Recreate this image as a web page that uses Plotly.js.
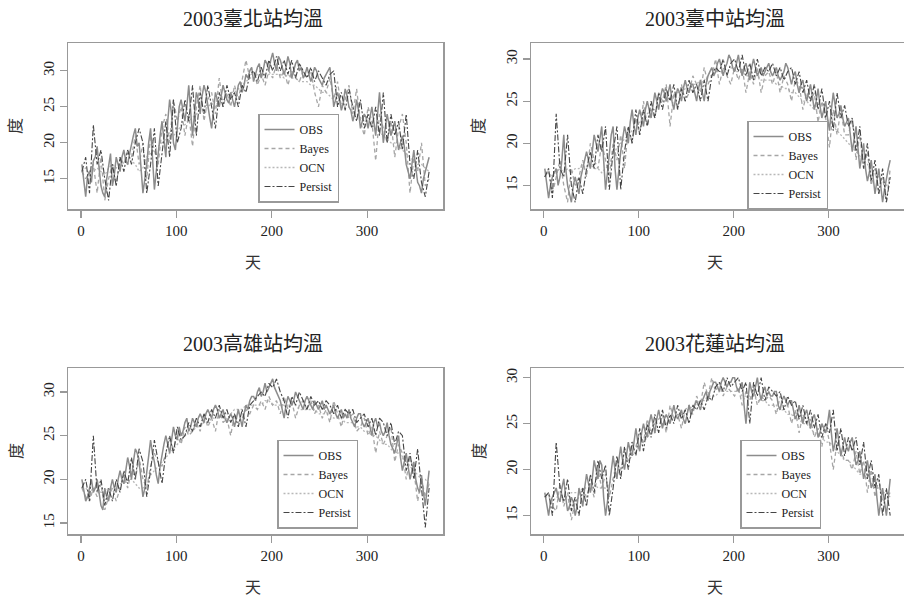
<!DOCTYPE html>
<html>
<head>
<meta charset="utf-8">
<script src="https://cdn.plot.ly/plotly-3.0.1.min.js"></script>
<style>html,body{margin:0;padding:0;background:#fff;}#chart{width:904px;height:596px;}</style>
</head>
<body>
<div id="chart"></div>
<script>
// Day positions: forecasts read every 4th day, observations every 2nd day
const DAYS = Array.from({length: 92}, (_, k) => 1 + 4 * k);
const DAYS_OBS = Array.from({length: 183}, (_, k) => 1 + 2 * k);

const SERIES_NAMES = ["OBS", "Bayes", "OCN", "Persist"];
const STATIONS = ["2003臺北站均溫", "2003臺中站均溫", "2003高雄站均溫", "2003花蓮站均溫"];
const X_TICKS = [0, 100, 200, 300];
const Y_TICKS = [15, 20, 25, 30];
const X_TITLE = "天";
const Y_TITLE = "度";

// ---- Taipei ----
const taipei_OBS = [17,15,12.5,15.5,16,14.5,17.5,18,19.5,16.5,14,13,12.5,15,17,18.5,14,15.5,18,17,
  16,18,19,17.5,17,18.5,20,21,22,19.5,20,17,13,15,17,20,22,18,13.5,16,
  19,21,23,20.5,18,23,26,24,20,19,22,25,26,24.5,23,25,28,24.5,21,24,
  27,26,24,26.5,28,27,25,23.5,22,25,27,26,25,26.5,28,27,26,25.5,27,26,
  25,26.5,28,28.5,27,28,29.5,29,30,30.5,28.5,29.5,30.5,31,29,30,31.5,31,30,31.5,
  32.5,31,30,32,31.5,30.5,29.5,30.5,32,31,29,30,31,31.5,30,30.5,29,29.5,30.5,29.5,
  28.5,29.5,30.5,30,29,28.5,28,29,29.5,30,30.5,28,25,26,27,26,24.5,25.5,27.5,26.5,
  25,24.5,23,24,26,24.5,22,23,24,23.5,22,23.5,25,23,21,24,27,23.5,20,22,
  24,22.5,21,22,23,21,19,20,21,19.5,17,16,15,17,19,16.5,14.5,14,13,15,
  16,17,18];
const taipei_Bayes = [16,15,16,17,13,18,12,15,17,14, 18,17,19,18,21,17,20,15,21,19, 17,22,24,20,26,23,25,21,24,19.5,
  25,28,23,26,27,24,29,25,27,25, 28,26,29,31.5,29,30,28,29.5,28,30, 29,31,29,30,28,30,29,28.5,30,29,
  30,27,25,28,27,29,26,28.5,25,26, 28,24,27.5,23,21,25,23,17.5,24,22, 20,23,18,22,24,20,13,18,16,20, 14,15];
const taipei_OCN = [16,16.5,15.5,16,16.5,16,15.5,16.5,17,16.5, 17,17.5,17,17.5,17,16,16.5,18,18.5,19, 19.5,20,20.5,21.5,21,21.5,22.5,22.5,23,23.5,
  24,24.5,24.5,25,25.5,25,26,26,26.5,27, 27,27.5,28,28.5,29,29,29.5,29.5,29.5,29.5, 29.5,29.5,29.5,29,29.5,29,29,28.5,28.5,28.5,
  28,28,27.5,27,27,26.5,26,26,25.5,25, 25,24.5,24,23.5,23,23,22.5,22,21.5,21, 20.5,20,20,19.5,19,18.5,18,17.5,17,17, 16.5,16];
const taipei_Persist = [16,18,13,22.5,17,19,15,12,17,14, 18,16,19,17,20,22,20,13,17,22, 14,19,23,18,26,20,22,26,23,28,
  21,27,24,28,25,22,27,25,28,26, 27,25,28,27,29.5,30,28.5,30.5,29,31.5, 30,32,30,31.5,29.5,31.5,29,31,30,29,
  30.5,28.5,30,29,28,29.5,30,25,27,24.5, 27.5,25,23,26,22,24,22,25,21,27, 20,24,21,23,19,24,17,15,19,14.5, 12.5,16];

// ---- Taichung ----
const taichung_OBS = [17,15.5,13.5,15,16,16.5,17,15,16,18,21,17,15,14,13,15,16,15,14,16,
  17,18,19,18,17,19,21,20,19,20.5,22,18,14.5,16.5,19,21,22,17,14.5,17,
  19,20.5,22,21,20,22.5,24,22,21,23,24,23,22,24,25,24,23,24.5,26,25,
  24,25.5,26.5,26,25,26,27,25,24,25.5,26.5,26,25,26.5,27.5,26.5,26,27,27,26,
  25,26.5,27.5,26,25,27,28,28.5,29,28,28.5,29.5,30,29,28,29,29.5,30.5,30,29,
  28.5,29.5,30.5,29,28,29,29.5,28.5,27.5,29,30,29,28,28.5,29,28,28.5,29,29.5,28.5,
  28,28.5,29,28,27.5,28,28.5,29.5,29,28,27,28,28.5,27,26,27,27.5,26,25,26,
  27,25.5,24,25,26.5,24.5,23,24,25,23,21.5,24,26,24.5,23,23.5,24.5,23,22,22.5,
  23,21,19,20.5,22,19.5,17,18.5,20,17,15.5,16.5,18,16,14,15.5,17,15,13,14.5,
  16,17,18];
const taichung_Bayes = [16,17,14,16,18,15,13,17,15,16, 18,16,20,18,17,20,18,16,20,18, 21,17,22,20,23,21,25,22,24,23,
  26,25,27,22,26,24,27,25,26,28, 27,26,29,27,28,30,27,29,28,27, 29,27.5,29,26,28.5,27,29,26,28,28.5,
  27,28.5,26,28,27,25,27.5,27,24,26, 25,26,22.5,25,23,19.5,24,21,24,21, 21,23,18,21,17,19,15,17,14,16, 13,17];
const taichung_OCN = [16,16.5,16,16.5,17,16.5,17,16.5,17,17, 17.5,17,17.5,17,17,16.5,17,17.5,18.5,19.5, 20,20.5,21,21.5,22,22.5,23,23.5,24,24,
  24.5,25,25,25.5,25.5,26,26,26.5,26.5,27, 27,27.5,27.5,28,28,28.5,28.5,28.5,28.5,29, 28.5,28.5,28.5,28,28,28,28,27.5,27.5,27.5,
  27.5,27,27,26.5,26.5,26,26,25.5,25,25, 24.5,24,24,23.5,23,22.5,22,21.5,21,20.5, 20,19.5,19,18.5,18,17.5,17,16.5,16,15.5, 15,15.5];
const taichung_Persist = [16,17,13.5,23.5,17,16,21,15,13,16, 14,17,19,17,21,19,22,14.5,19,22, 14.5,19,22,20,24,21,24,22,25,23,
  26,24,26.5,25,27,24,26.5,25,27.5,26, 27,25,27.5,25,28,29,28.5,30,28,29.5, 30,28.5,30.5,28,29.5,27.5,30,28,29,28.5,
  29.5,28,29,27.5,28.5,29,27,28.5,26,27.5, 25,27,24,26.5,23,25,21.5,26,23,24.5, 22,23,19,22,17,20,15.5,18,14,17, 13,16];

// ---- Kaohsiung ----
const kaohsiung_OBS = [20,18.5,17.5,18,19,20,18.5,19,20,18.5,17,16.5,19,18,17.5,19,20,19,18.5,20,
  21,20,19.5,21,22.5,21.5,20,22,23.5,23,22,20,18,19,21,22.5,24.5,23,22,20.5,
  19.5,21.5,23,24,25,24,23,24.5,26,25,24.5,26,25,25.5,26.5,27,25.5,26,27,26.5,
  26,27,27.5,27,26.5,27.5,28,27.5,27,28,28.5,28,27,27.5,28,27,26.5,27,27.5,27,
  26,27,28,27,26,27.5,28.5,28,29,29.5,29.5,29,30,30.5,29.5,30,31,30,30.5,31,
  31.5,30.5,30,29.5,29,28,27,28.5,29.5,29,28.5,29,30,29.5,29,28.5,28,29,29.5,29,
  28.5,28,29,28.5,28,28.5,29,28,28.5,28,27.5,28,28.5,27.5,27,27.5,28,27,27.5,27,
  28,27,26.5,26,27,27.5,27.5,26.5,26,26.5,27,26,25,26.5,27,26,26.5,25.5,25,25.5,
  26.5,25,24,23.5,23,24,25,22.5,21,22,23,21.5,20,21,22,20,19,18.5,20.5,18.5,
  17,19,21];
const kaohsiung_Bayes = [19,18,17.5,19,18,19.5,16.5,18,19,17.5, 19,20.5,19,21,20,22.5,20,19,21.5,23, 22,21.5,23,24.5,23.5,25,24,26,25,25.5,
  26.5,25.5,27.5,26,27,25.5,28,26.5,27,25, 27.5,26.5,27,28,27.5,28.5,28,29,28,29.5, 28.5,29,27.5,29.5,28,29,27,28.5,29,28,
  29,27.5,28.5,27,28,26.5,29,27.5,26,28, 27,27.5,25.5,26,27,25,26,23,25.5,24, 25,26,22,24,23,20,22.5,21,17.5,20, 18,19.5];
const kaohsiung_OCN = [19,19,18.5,19,19,18.5,18.5,19,19,19, 19.5,19.5,20,20,19.5,19,19,19.5,20.5,21, 21.5,22,22.5,23,23.5,24,24.5,25,25.5,25.5,
  26,26,26.5,26.5,27,27,27,27.5,27.5,27.5, 28,28,28,28.5,28.5,28.5,28.5,28.5,29,29, 28.5,28.5,28.5,28.5,28.5,28.5,28.5,28,28,28,
  28,28,27.5,27.5,27.5,27.5,27,27,27,26.5, 26.5,26.5,26,26,25.5,25.5,25,25,24.5,24, 24,23.5,23,23,22.5,22,21.5,21,20.5,20, 20,19.5];
const kaohsiung_Persist = [19,20,17.5,25,18.5,20,17,19,17.5,20, 18.5,21,19.5,22.5,20,23.5,22,18,21,24.5, 22,19.5,23,25,23,26,24.5,25,26.5,25.5,
  27,26,27.5,26.5,28,27,28.5,27,28,26.5, 27.5,26,28,26,28.5,29,29.5,30,29.5,31, 30.5,31.5,30,29,27,29.5,28.5,30,29,28,
  29.5,28.5,29,28,29,28.5,27.5,28.5,27,28, 27.5,28,26.5,27,27.5,26,27,25,27,26.5, 25,26.5,24,25.5,25,21,23,20,23.5,19, 14.5,19];

// ---- Hualien ----
const hualien_OBS = [17.5,16,15,16.5,17,17.5,18,17,16.5,18,19,17,15.5,16,17,16.5,15,16,18,17,
  16,18,19.5,18.5,17.5,19,21,20,19,21,20.5,17,15,16.5,18,20,21.5,20,19,21,
  22.5,21,20,21.5,23,22,21.5,23,24.5,23,22,24,25,24,23.5,25,26,25,24,25.5,
  26.5,25.5,24.5,25.5,26,25.5,25,26,27,26,25.5,26,26.5,25.5,25,26,27,26,26.5,27,
  27.5,27,26.5,27.5,28,28.5,27.5,28.5,29,29.5,29.5,29,28.5,29.5,30,29.5,29,29.5,29.5,30,
  30,29,28.5,29,29.5,27,25,27.5,29.5,28.5,28,29,30,28.5,27.5,28.5,29,28,28.5,28,
  28,28.5,28.5,27,26.5,27.5,28,27.5,27,27.5,27.5,26.5,25.5,26,27,26,25,26,26.5,25.5,
  24.5,25.5,26,25,23.5,24,25,24.5,24,25,26.5,24,22,23,24.5,23,21.5,22.5,23.5,22.5,
  22,23,23.5,22,20.5,21,22,20.5,19,20,21,19.5,18,18.5,19.5,17,15,16.5,18,16.5,
  15,17,19];
const hualien_Bayes = [17,17.5,16,15.5,18.5,16,17.5,14.5,16.5,17, 18,17,18.5,17,20,18,19.5,17,19,21, 20,22,21,23,22.5,24,23,25.5,24,25,
  25.5,26,24,27,25.5,26,24.5,26.5,27,26, 28,27,29.5,28,30,28.5,29.5,28,29,28.5, 28,29,27,28.5,27.5,29,27,28,27.5,28,
  27.5,26,28,26.5,27,25,26.5,24,26,25, 25.5,23.5,24.5,22.5,25,23,20,23,22,21, 21,20,22,19.5,21,17.5,20,17,19,16.5, 17,17.5];
const hualien_OCN = [17,17,16.5,17,17,17,17,17.5,17.5,17.5, 18,18,18,18.5,18,18,18,18.5,19,19.5, 20,20.5,21,21.5,22,22.5,23,23.5,24,24,
  24.5,25,25,25.5,25.5,26,26,26.5,26.5,27, 27,27.5,27.5,28,28,28,28.5,28.5,28.5,28.5, 28.5,28.5,28,28,28,28,27.5,27.5,27.5,27,
  27,27,26.5,26.5,26,26,25.5,25.5,25,25, 24.5,24,24,23.5,23,23,22.5,22,21.5,21, 21,20.5,20,19.5,19.5,19,18.5,18,18,17.5, 17.5,17];
const hualien_Persist = [17,17.5,15,23,18,16.5,19,15.5,17,15, 18,16,19.5,17.5,21,19,20.5,15,18,21.5, 19,22.5,20,23,21.5,24.5,22,25,23.5,26,
  24,26.5,24.5,26,25,27,25.5,26.5,25,27, 26.5,27.5,26.5,28,27.5,29,29.5,28.5,30,29, 29.5,30,28.5,29.5,25,29.5,28,30,27.5,29,
  28.5,28,28.5,26.5,28,27,27.5,25.5,27,25, 26.5,24.5,26,23.5,25,24,26.5,22,24.5,21.5, 23.5,22,23.5,20.5,23,19,21,18,19.5,15, 18,15];

const PANELS = [
  {title: STATIONS[0], data: {OBS: taipei_OBS, Bayes: taipei_Bayes, OCN: taipei_OCN, Persist: taipei_Persist}},
  {title: STATIONS[1], data: {OBS: taichung_OBS, Bayes: taichung_Bayes, OCN: taichung_OCN, Persist: taichung_Persist}},
  {title: STATIONS[2], data: {OBS: kaohsiung_OBS, Bayes: kaohsiung_Bayes, OCN: kaohsiung_OCN, Persist: kaohsiung_Persist}},
  {title: STATIONS[3], data: {OBS: hualien_OBS, Bayes: hualien_Bayes, OCN: hualien_OCN, Persist: hualien_Persist}}
];

// ---- styling / layout (pixels in a 904x596 page) ----
const W = 904, H = 596;
const SERIF = "Liberation Serif, Times New Roman, Noto Sans CJK TC, serif";
const STYLE = {
  OBS:     {color: "#8c8c8c", width: 1.5, dash: "solid", rank: 1},
  Bayes:   {color: "#a6a6a6", width: 1.3, dash: "4px,3px", rank: 2},
  OCN:     {color: "#b8b8b8", width: 1.3, dash: "2px,2px", rank: 3},
  Persist: {color: "#454545", width: 1.1, dash: "6px,2px,2px,2px", rank: 4}
};
const DRAW_ORDER = ["OCN", "Bayes", "OBS", "Persist"];
const BOX = [
  {x0: 68, x1: 443, y0: 43, y1: 209, yr: [10.8, 33.87], leg: [258, 158]},
  {x0: 531, x1: 904, y0: 43, y1: 209, yr: [12.2, 31.9], leg: [747, 165]},
  {x0: 68, x1: 443, y0: 368, y1: 534, yr: [13.74, 32.75], leg: [277, 484]},
  {x0: 531, x1: 904, y0: 368, y1: 534, yr: [13.0, 31.05], leg: [740, 484]}
];

const traces = [];
const layout = {
  width: W, height: H,
  margin: {l: 0, r: 0, t: 0, b: 0},
  paper_bgcolor: "#fff", plot_bgcolor: "#fff",
  font: {family: SERIF, color: "#222", size: 15},
  annotations: [],
  showlegend: true
};

PANELS.forEach((p, i) => {
  const n = i + 1;
  const xa = "x" + (n === 1 ? "" : n), ya = "y" + (n === 1 ? "" : n);
  const legName = n === 1 ? "legend" : "legend" + n;
  const b = BOX[i];
  DRAW_ORDER.forEach(s => {
    const st = STYLE[s];
    traces.push({
      type: "scatter", mode: "lines", name: s,
      x: s === "OBS" ? DAYS_OBS : DAYS, y: p.data[s], xaxis: xa, yaxis: ya,
      legend: legName, legendrank: st.rank,
      line: {color: st.color, width: st.width, dash: st.dash},
      hoverinfo: "skip"
    });
  });
  const axCommon = {
    showline: true, mirror: true, linecolor: "#999", linewidth: 1.5,
    ticks: "outside", ticklen: 7, tickwidth: 1.2, tickcolor: "#999",
    showgrid: false, zeroline: false, fixedrange: true,
    tickfont: {family: SERIF, size: 15, color: "#222"}
  };
  layout["xaxis" + (n === 1 ? "" : n)] = Object.assign({}, axCommon, {
    domain: [b.x0 / W, Math.min(1, b.x1 / W)],
    range: [-13.56, 379.56], tickmode: "array", tickvals: X_TICKS,
    anchor: ya
  });
  layout["yaxis" + (n === 1 ? "" : n)] = Object.assign({}, axCommon, {
    domain: [1 - b.y1 / H, 1 - b.y0 / H],
    range: b.yr, tickmode: "array", tickvals: Y_TICKS, tickangle: -90,
    anchor: xa
  });
  layout[legName] = {
    x: b.leg[0] / W, y: 1 - b.leg[1] / H, xanchor: "left", yanchor: "middle",
    bgcolor: "#fff", bordercolor: "#999", borderwidth: 1.5,
    font: {family: SERIF, size: 12, color: "#222"},
    itemwidth: 30, tracegroupgap: 0, traceorder: "normal"
  };
  const cx = (b.x0 + Math.min(b.x1, 904)) / 2 - 3;
  layout.annotations.push(
    {text: p.title, xref: "paper", yref: "paper", x: cx / W, y: 1 - (b.y0 - 24) / H,
     showarrow: false, xanchor: "center", yanchor: "middle", font: {family: SERIF, size: 20, color: "#222"}},
    {text: X_TITLE, xref: "paper", yref: "paper", x: cx / W, y: 1 - (b.y1 + 53) / H,
     showarrow: false, xanchor: "center", yanchor: "middle", font: {family: SERIF, size: 16, color: "#333"}},
    {text: Y_TITLE, xref: "paper", yref: "paper", x: (b.x0 - 52) / W, y: 1 - ((b.y0 + b.y1) / 2) / H,
     showarrow: false, xanchor: "center", yanchor: "middle", textangle: -90, font: {family: SERIF, size: 16, color: "#333"}}
  );
});

Plotly.newPlot("chart", traces, layout, {displayModeBar: false, staticPlot: true});
</script>
</body>
</html>
